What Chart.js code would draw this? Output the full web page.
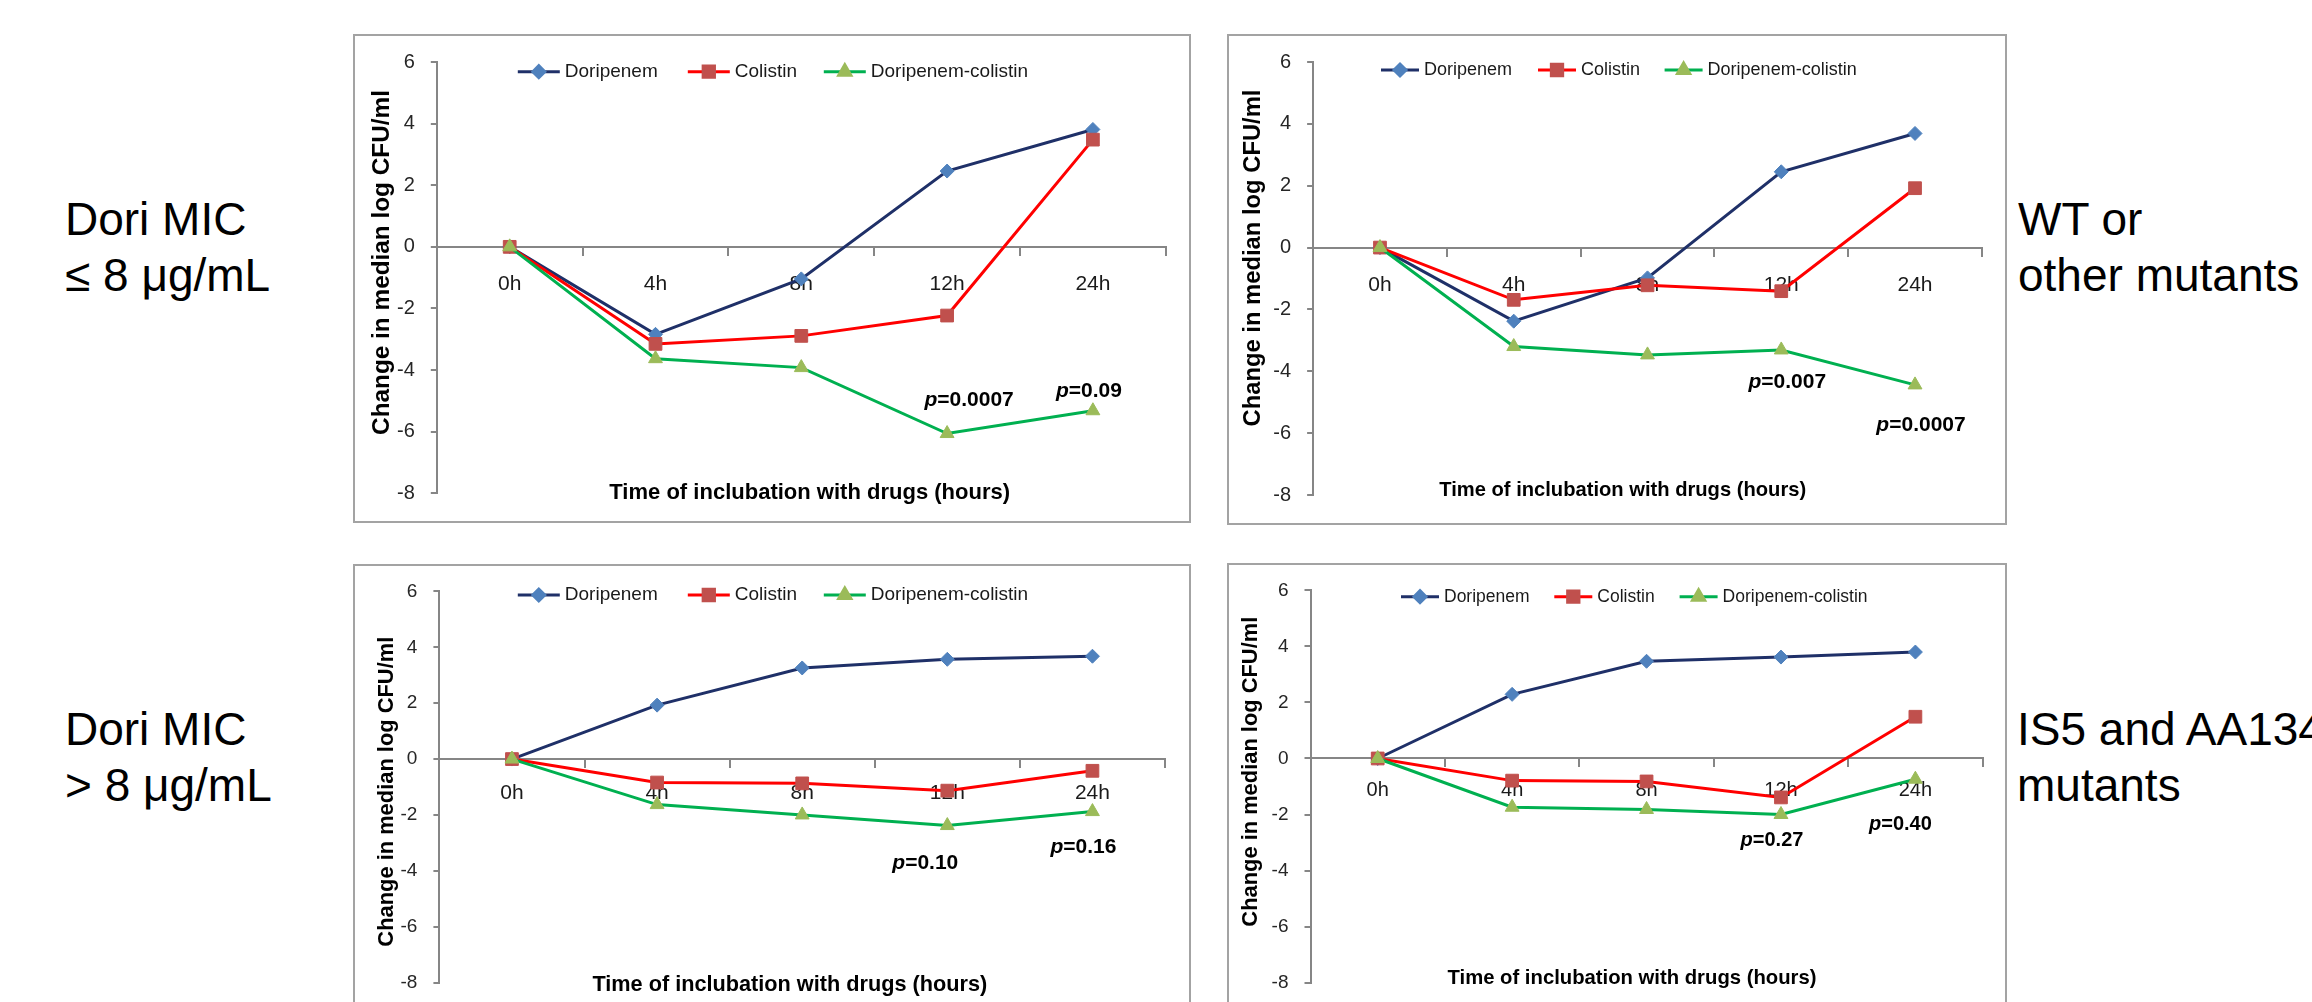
<!DOCTYPE html>
<html><head><meta charset="utf-8">
<script src="https://cdn.jsdelivr.net/npm/chart.js@4.4.1/dist/chart.umd.min.js"></script>
<style>
html,body{margin:0;padding:0;background:#fff;width:2312px;height:1002px;overflow:hidden;position:relative;}
.side{position:absolute;font-family:'Liberation Sans',Arial,sans-serif;font-size:46px;line-height:56.7px;color:#000;white-space:nowrap;}
canvas{position:absolute;}
</style></head><body>
<div class="side" style="left:65px;top:190.7px;">Dori MIC<br>≤ 8 μg/mL</div>
<div class="side" style="left:65px;top:700.7px;">Dori MIC<br>&gt; 8 μg/mL</div>
<div class="side" style="left:2018px;top:190.7px;">WT or<br>other mutants</div>
<div class="side" style="left:2017px;top:700.7px;">IS5 and AA134<br>mutants</div>
<script>
// ---------- DATA ----------
const categories = ['0h', '4h', '8h', '12h', '24h'];
const seriesNames = ['Doripenem', 'Colistin', 'Doripenem-colistin'];
const yTickValues = [6, 4, 2, 0, -2, -4, -6, -8];
const xTitleText = 'Time of inclubation with drugs (hours)';
const yTitleText = 'Change in median log CFU/ml';

// Top-left
const tlDoripenem = [0, -2.84, -1.04, 2.46, 3.81];
const tlColistin  = [0, -3.15, -2.89, -2.23, 3.48];
const tlCombo     = [0, -3.63, -3.92, -6.06, -5.32];
const tlPCats     = ['12h', '24h'];
const tlPValues   = ['0.0007', '0.09'];
const tlPLevels   = [-4.99, -4.69];

// Top-right
const trDoripenem = [0, -2.38, -0.98, 2.45, 3.69];
const trColistin  = [0, -1.69, -1.22, -1.41, 1.92];
const trCombo     = [0, -3.20, -3.47, -3.31, -4.44];
const trPCats     = ['12h', '24h'];
const trPValues   = ['0.007', '0.0007'];
const trPLevels   = [-4.36, -5.74];

// Bottom-left
const blDoripenem = [0, 1.93, 3.26, 3.57, 3.68];
const blColistin  = [0, -0.84, -0.87, -1.13, -0.42];
const blCombo     = [0, -1.63, -2.00, -2.38, -1.88];
const blPCats     = ['12h', '24h'];
const blPValues   = ['0.10', '0.16'];
const blPLevels   = [-3.73, -3.17];

// Bottom-right
const brDoripenem = [0, 2.29, 3.47, 3.62, 3.80];
const brColistin  = [0, -0.79, -0.82, -1.39, 1.49];
const brCombo     = [0, -1.74, -1.82, -2.00, -0.74];
const brPCats     = ['12h', '24h'];
const brPValues   = ['0.27', '0.40'];
const brPLevels   = [-2.93, -2.35];

// ---------- STYLE ----------
const FAM = "'Liberation Sans', Arial, sans-serif";
const seriesStyles = [
  {line: '#1F3068', marker: '#4F81BD', pointStyle: 'rectRot', radius: 7, order: 2},
  {line: '#FF0000', marker: '#C0504D', pointStyle: 'rect', radius: 9, order: 1},
  {line: '#00B050', marker: '#9BBB59', pointStyle: 'triangle', radius: 8, order: 0}
];

function fitFont(ctx, text, weight, style, targetW) {
  ctx.font = style + ' ' + weight + ' 20px ' + FAM;
  const w = ctx.measureText(text).width;
  const size = 20 * targetW / w;
  return style + ' ' + weight + ' ' + size.toFixed(2) + 'px ' + FAM;
}

function makeDeco(L) {
  return {
    id: 'panelDeco',
    afterDraw(chart) {
      const ctx = chart.ctx, W = chart.width, H = chart.height;
      ctx.save();
      ctx.strokeStyle = '#a3a3a3'; ctx.lineWidth = 2;
      ctx.strokeRect(1, 1, W - 2, H - 2);
      ctx.fillStyle = '#000';
      // y title
      ctx.save();
      ctx.translate(L.yTitle[0], L.yTitle[1]);
      ctx.rotate(-Math.PI / 2);
      ctx.font = fitFont(ctx, yTitleText, 'bold', 'normal', L.yTitle[2]);
      ctx.textAlign = 'center'; ctx.textBaseline = 'middle';
      ctx.fillText(yTitleText, 0, 0);
      ctx.restore();
      // x title
      ctx.font = fitFont(ctx, xTitleText, 'bold', 'normal', L.xTitle[2]);
      ctx.textAlign = 'center'; ctx.textBaseline = 'middle';
      ctx.fillText(xTitleText, L.xTitle[0], L.xTitle[1]);
      // legend
      seriesNames.forEach((name, i) => {
        const st = seriesStyles[i];
        const lx = L.legendX[i], ly = L.legendY, len = L.legendLen;
        ctx.strokeStyle = st.line; ctx.lineWidth = 3;
        ctx.beginPath(); ctx.moveTo(lx, ly); ctx.lineTo(lx + len, ly); ctx.stroke();
        ctx.fillStyle = st.marker; ctx.strokeStyle = st.marker;
        Chart.helpers.drawPoint(ctx, {pointStyle: st.pointStyle, rotation: 0, radius: st.radius - 1, borderWidth: 1}, lx + len / 2, ly);
        ctx.fillStyle = '#1a1a1a';
        ctx.font = L.legendSize + 'px ' + FAM;
        ctx.textAlign = 'left'; ctx.textBaseline = 'middle';
        ctx.fillText(name, lx + len + 5, ly);
      });
      // p-values
      const xs = chart.scales.x, ys = chart.scales.y;
      L.pCats.forEach((c, i) => {
        const cx = xs.getPixelForValue(categories.indexOf(c)) + L.pDx[i];
        const cy = ys.getPixelForValue(L.pLevels[i]);
        const fP = 'italic bold ' + L.pSize + 'px ' + FAM;
        const fV = 'bold ' + L.pSize + 'px ' + FAM;
        const rest = '=' + L.pValues[i];
        ctx.font = fP; const wP = ctx.measureText('p').width;
        ctx.font = fV; const wV = ctx.measureText(rest).width;
        const x0 = cx - (wP + wV) / 2;
        ctx.fillStyle = '#000'; ctx.textAlign = 'left'; ctx.textBaseline = 'middle';
        ctx.font = fP; ctx.fillText('p', x0, cy);
        ctx.font = fV; ctx.fillText(rest, x0 + wP, cy);
      });
      ctx.restore();
    }
  };
}

function makePanel(L, series) {
  const cv = document.createElement('canvas');
  cv.width = L.box[2]; cv.height = L.box[3];
  cv.style.left = L.box[0] + 'px'; cv.style.top = L.box[1] + 'px';
  cv.style.width = L.box[2] + 'px'; cv.style.height = L.box[3] + 'px';
  document.body.appendChild(cv);
  const datasets = series.map((vals, i) => {
    const st = seriesStyles[i];
    return {
      label: seriesNames[i], data: vals, order: st.order,
      borderColor: st.line, borderWidth: 3, tension: 0, fill: false,
      pointStyle: st.pointStyle, pointRadius: st.radius,
      pointBackgroundColor: st.marker, pointBorderColor: st.marker, pointBorderWidth: 1
    };
  });
  new Chart(cv, {
    type: 'line',
    data: {labels: categories, datasets},
    options: {
      responsive: false, animation: false, devicePixelRatio: 1,
      layout: {padding: {left: 0, top: L.pad[0], right: L.pad[1], bottom: L.pad[2]}},
      plugins: {legend: {display: false}, tooltip: {enabled: false}},
      scales: {
        x: {
          type: 'category', offset: true, position: {y: 0},
          grid: {display: true, drawOnChartArea: false, drawTicks: true, tickLength: 8, color: '#868686', lineWidth: 2, offset: true},
          border: {display: true, color: '#868686', width: 2},
          ticks: {color: '#1a1a1a', font: {family: FAM, size: L.xTickSize}, padding: L.xTickPad, maxRotation: 0, autoSkip: false}
        },
        y: {
          min: Math.min(...yTickValues), max: Math.max(...yTickValues),
          afterFit: (s) => { s.width = L.yWidth; },
          afterBuildTicks: (s) => { s.ticks = yTickValues.slice().reverse().map(v => ({value: v})); },
          grid: {display: true, drawOnChartArea: false, drawTicks: true, tickLength: 6, color: '#868686', lineWidth: 2},
          border: {display: true, color: '#868686', width: 2},
          ticks: {color: '#262626', font: {family: FAM, size: L.yTickSize}, padding: 16}
        }
      }
    },
    plugins: [makeDeco(L)]
  });
}

const layoutTL = {
  box: [353, 34, 838, 489], pad: [18.7, 25.2, 29.7], yWidth: 83.8,
  xTickSize: 21, xTickPad: 17, yTickSize: 20,
  yTitle: [29, 228.5, 345], xTitle: [456.7, 459.3, 401],
  legendX: [164.8, 334.8, 470.8], legendY: 37.7, legendLen: 42, legendSize: 19,
  pCats: tlPCats, pValues: tlPValues, pLevels: tlPLevels, pDx: [22, -4], pSize: 21
};
const layoutTR = {
  box: [1227, 34, 780, 491], pad: [19.3, 25.1, 30], yWidth: 86.1,
  xTickSize: 21, xTickPad: 17, yTickSize: 20,
  yTitle: [26, 224, 337], xTitle: [395.7, 456, 367],
  legendX: [154, 311, 437.6], legendY: 36, legendLen: 38, legendSize: 18,
  pCats: trPCats, pValues: trPValues, pLevels: trPLevels, pDx: [6, 6], pSize: 21
};
const layoutBL = {
  box: [353, 564, 838, 446], pad: [18.7, 26, 23.3], yWidth: 86.4,
  xTickSize: 21, xTickPad: 14, yTickSize: 19,
  yTitle: [34, 227.7, 310], xTitle: [436.8, 421, 395],
  legendX: [164.8, 334.8, 470.8], legendY: 31, legendLen: 42, legendSize: 19,
  pCats: blPCats, pValues: blPValues, pLevels: blPLevels, pDx: [-22, -9], pSize: 21
};
const layoutBR = {
  box: [1227, 563, 780, 447], pad: [26.3, 24.4, 23.3], yWidth: 83.5,
  xTickSize: 20, xTickPad: 12, yTickSize: 19,
  yTitle: [24.3, 208.7, 310], xTitle: [405, 415.3, 369],
  legendX: [174, 327.3, 452.6], legendY: 33.7, legendLen: 38, legendSize: 17.5,
  pCats: brPCats, pValues: brPValues, pLevels: brPLevels, pDx: [-9, -15], pSize: 20
};

makePanel(layoutTL, [tlDoripenem, tlColistin, tlCombo]);
makePanel(layoutTR, [trDoripenem, trColistin, trCombo]);
makePanel(layoutBL, [blDoripenem, blColistin, blCombo]);
makePanel(layoutBR, [brDoripenem, brColistin, brCombo]);
</script>
</body></html>
